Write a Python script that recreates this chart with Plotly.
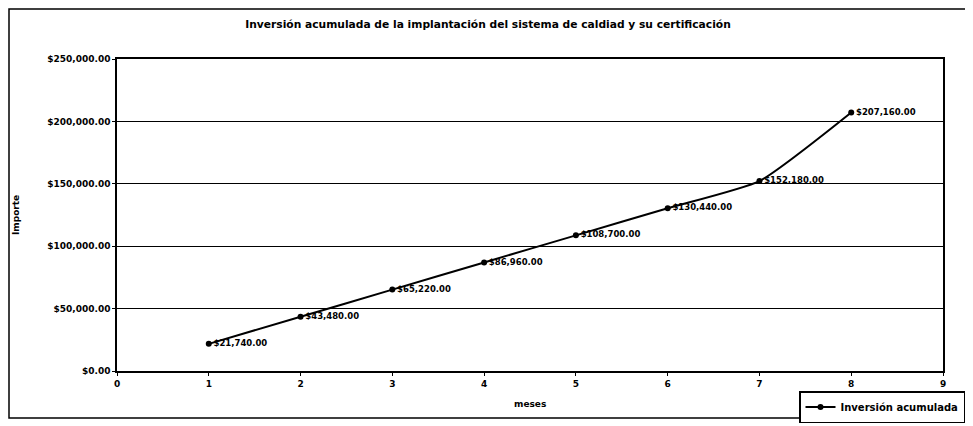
import plotly.graph_objects as go

meses = [1, 2, 3, 4, 5, 6, 7, 8]
inversion = [21740, 43480, 65220, 86960, 108700, 130440, 152180, 207160]
y_ticks = [0, 50000, 100000, 150000, 200000, 250000]
y_tick_labels = ["$0.00", "$50,000.00", "$100,000.00", "$150,000.00", "$200,000.00", "$250,000.00"]
x_ticks = [0, 1, 2, 3, 4, 5, 6, 7, 8, 9]

labels = ["${:,.2f}".format(v) for v in inversion]

FONT = "DejaVu Sans, Verdana, sans-serif"

# page body has an 8px margin, so the figure is laid out 8px in from the window corner
W, H = 965, 418
L, T = 109, 51
PW, PH = 826, 312

fig = go.Figure()
fig.add_trace(go.Scatter(
    x=meses, y=inversion, mode="lines+markers+text",
    name="Inversión acumulada",
    line=dict(color="black", width=2, shape="spline", smoothing=0.5),
    marker=dict(color="black", size=6),
    text=labels, textposition="middle right",
    textfont=dict(family=FONT, size=8.5, color="black", weight="bold"),
))

fig.update_layout(
    width=W, height=H,
    margin=dict(l=L, r=W - L - PW, t=T, b=H - T - PH, autoexpand=False),
    paper_bgcolor="white", plot_bgcolor="white",
    font=dict(family=FONT, size=9, color="black"),
    title=dict(text="<b>Inversión acumulada de la implantación del sistema de caldiad y su certificación</b>",
               x=480 / W, xanchor="center", y=1 - 16 / H, yanchor="middle",
               font=dict(size=10.7, family=FONT, color="black")),
    showlegend=True,
    legend=dict(xref="container", yref="container",
                x=957 / W, xanchor="right", y=1 - 399 / H, yanchor="middle",
                bordercolor="black", borderwidth=1.5, bgcolor="white",
                font=dict(size=10, family=FONT, color="black", weight="bold"),
                itemwidth=30, tracegroupgap=0),
    xaxis=dict(range=[0, 9], tickvals=x_ticks, showgrid=False, zeroline=False,
               showline=True, linecolor="black", linewidth=1.5, mirror=True,
               ticks="outside", ticklen=3, tickcolor="black", automargin=False,
               tickfont=dict(size=9, family=FONT, weight="bold")),
    yaxis=dict(range=[0, 250000], tickvals=y_ticks, ticktext=y_tick_labels,
               showgrid=True, gridcolor="black", gridwidth=1, zeroline=False,
               showline=True, linecolor="black", linewidth=1.5, mirror=True,
               ticks="outside", ticklen=3, tickcolor="black", automargin=False,
               tickfont=dict(size=9, family=FONT, weight="bold")),
    shapes=[dict(type="rect", xref="paper", yref="paper",
                 x0=(1 - L) / PW, x1=(958 - L) / PW,
                 y0=(T + PH - 410) / PH, y1=(T + PH - 1) / PH,
                 line=dict(color="black", width=1.5), layer="below")],
    annotations=[
        dict(text="<b>Importe</b>", xref="paper", yref="paper",
             x=(8 - L) / PW, y=0.5, xanchor="center", yanchor="middle",
             textangle=-90, showarrow=False,
             font=dict(size=9, family=FONT, color="black")),
        dict(text="<b>meses</b>", xref="paper", yref="paper",
             x=0.5, y=-33 / PH, xanchor="center", yanchor="middle",
             showarrow=False,
             font=dict(size=9, family=FONT, color="black")),
    ],
)

fig.write_html("out.html")
